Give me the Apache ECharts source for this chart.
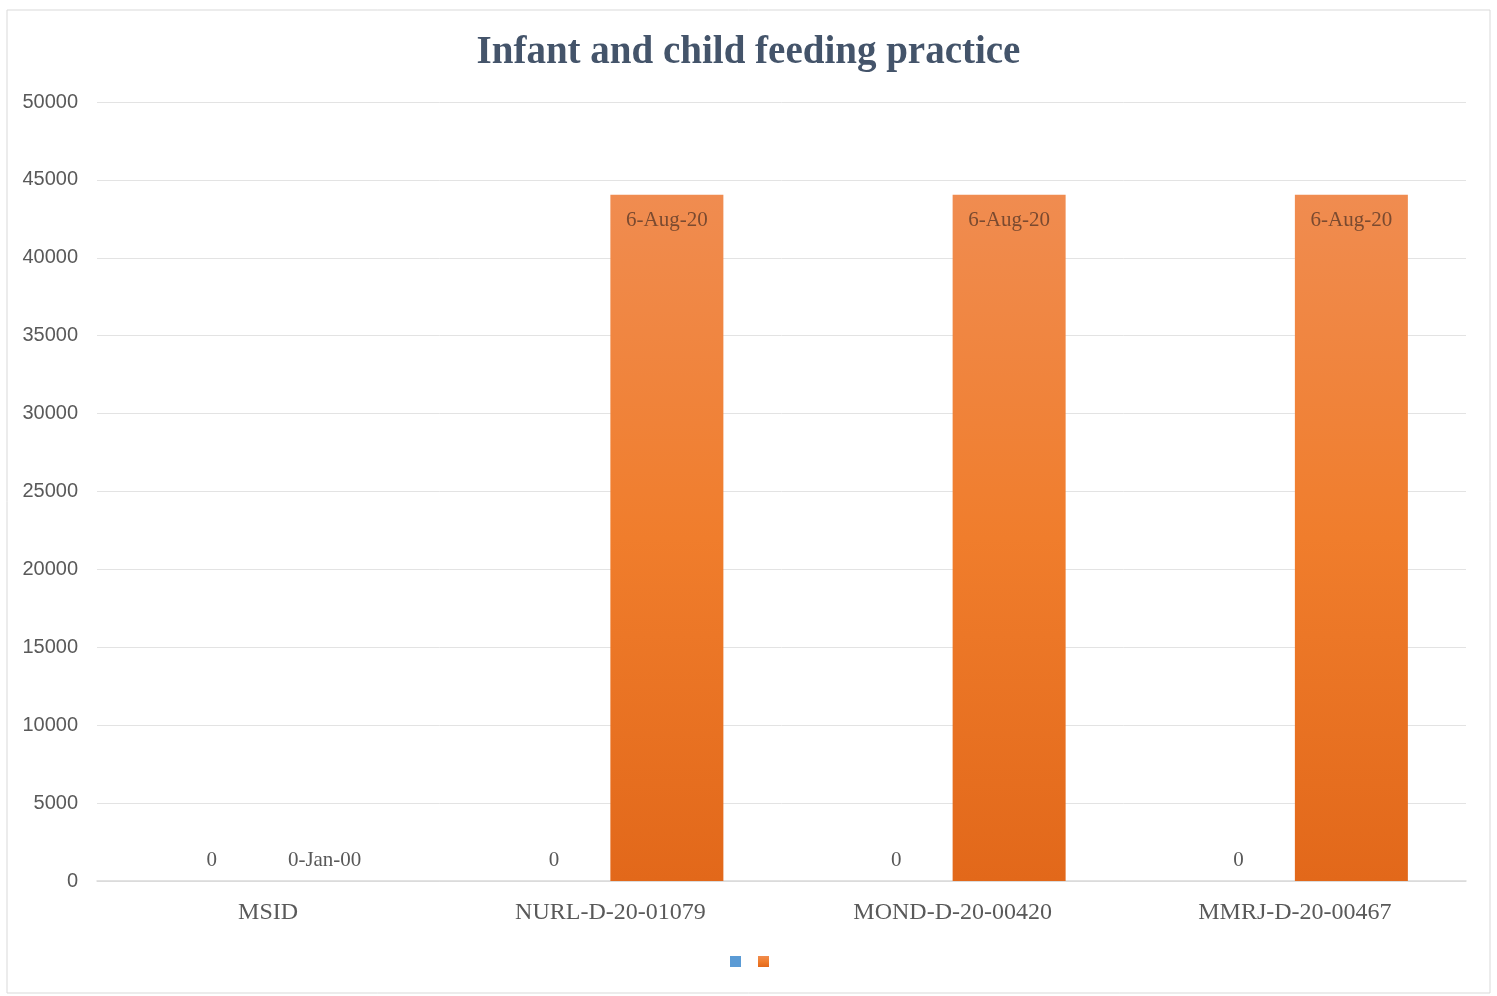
<!DOCTYPE html>
<html>
<head>
	<meta charset="utf-8">
	<title>Infant and child feeding practice</title>
	<script src="https://cdn.jsdelivr.net/npm/echarts@6/dist/echarts.min.js"></script>
	<style>
		html, body { margin: 0; padding: 0; background: #fff; }
	</style>
</head>
<body>
	<div id="main" style="width: 1497px;height: 996px;"></div>
	<script>
		// 数据
		var categories = ['MSID', 'NURL-D-20-01079', 'MOND-D-20-00420', 'MMRJ-D-20-00467'];
		var blueValues = [0, 0, 0, 0];
		// Excel date serials (44049 = 6-Aug-20)
		var dateValues = [0, 44049, 44049, 44049];
		var yTicks = [0, 5000, 10000, 15000, 20000, 25000, 30000, 35000, 40000, 45000, 50000];

		var months = ['Jan','Feb','Mar','Apr','May','Jun','Jul','Aug','Sep','Oct','Nov','Dec'];
		function excelDate(v) {
			if (v === 0) return '0-Jan-00';
			var d = new Date(Date.UTC(1899, 11, 30) + v * 86400000);
			var yy = String(d.getUTCFullYear() % 100);
			if (yy.length < 2) yy = '0' + yy;
			return d.getUTCDate() + '-' + months[d.getUTCMonth()] + '-' + yy;
		}

		var serif = '"Liberation Serif", "Times New Roman", serif';

		var myCharts = echarts.init(document.getElementById('main'));
		var option = {
			backgroundColor: '#fff',
			animation: false,
			graphic: [{
				type: 'rect',
				shape: { x: 7, y: 10, width: 1483, height: 983 },
				style: { fill: 'none', stroke: '#D9D9D9', lineWidth: 1 }
			}],
			title: {
				text: 'Infant and child feeding practice',
				left: 'center',
				top: 28,
				textStyle: {
					fontFamily: serif,
					fontWeight: 'bold',
					fontSize: 39,
					color: '#44546A'
				}
			},
			legend: {
				data: ['s1', 's2'],
				icon: 'rect',
				left: 725,
				top: 951,
				itemWidth: 11,
				itemHeight: 11,
				itemGap: 17,
				formatter: function () { return ''; },
				textStyle: { fontSize: 1 }
			},
			grid: { left: 97, right: 31, top: 102, bottom: 115 },
			xAxis: {
				type: 'category',
				data: categories,
				axisTick: { show: false },
				axisLine: { lineStyle: { color: '#D9D9D9', width: 1.5 } },
				axisLabel: {
					margin: 20,
					fontFamily: serif,
					fontSize: 24,
					color: '#595959'
				}
			},
			yAxis: {
				type: 'value',
				min: yTicks[0],
				max: yTicks[yTicks.length - 1],
				interval: yTicks[1] - yTicks[0],
				axisLine: { show: false },
				axisTick: { show: false },
				splitLine: { lineStyle: { color: '#E3E3E3' } },
				axisLabel: {
					margin: 19,
					fontFamily: '"Liberation Sans", Arial, sans-serif',
					fontSize: 20,
					color: '#595959',
					formatter: function (v) { return String(v); }
				}
			},
			series: [{
				name: 's1',
				type: 'bar',
				barWidth: 113,
				barGap: '0%',
				itemStyle: { color: '#5B9BD5' },
				label: {
					show: true,
					position: 'top',
					distance: 10,
					fontFamily: serif,
					fontSize: 21,
					color: '#595959'
				},
				data: blueValues
			}, {
				name: 's2',
				type: 'bar',
				barWidth: 113,
				barGap: '0%',
				itemStyle: {
					color: new echarts.graphic.LinearGradient(0, 0, 0, 1, [
						{ offset: 0, color: '#F08C50' },
						{ offset: 0.5, color: '#F07D2C' },
						{ offset: 1, color: '#E2681A' }
					])
				},
				label: {
					show: true,
					fontFamily: serif,
					fontSize: 21,
					formatter: function (p) { return excelDate(p.value); }
				},
				data: dateValues.map(function (v) {
					return {
						value: v,
						label: v > 0
							? { position: 'insideTop', distance: 15, color: '#7A4A30' }
							: { position: 'top', distance: 10, color: '#595959' }
					};
				})
			}]
		};
		myCharts.setOption(option);
	</script>
</body>
</html>
